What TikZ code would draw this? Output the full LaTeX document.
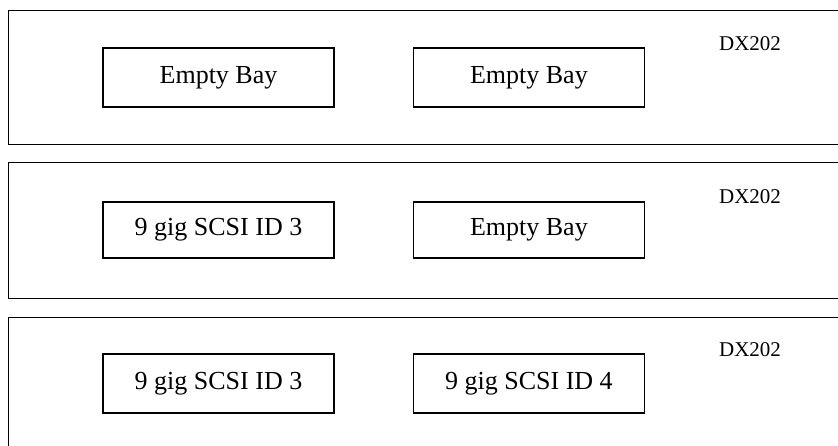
\documentclass[tikz,border=0pt]{standalone}
\usepackage{fontspec}
\setmainfont{Liberation Serif}
\usetikzlibrary{positioning}
\tikzset
{
    shelf/.style = {draw=black, line width=0.7pt, minimum width=421pt, minimum height=67pt, anchor=north west, inner sep=0pt},
    bay/.style   = {draw=black, line width=0.7pt, align=center, minimum width=115.5pt, minimum height=29.5pt, inner sep=0pt, font=\fontsize{13}{15}\selectfont},
    unit/.style  = {font=\fontsize{10.5}{12}\selectfont}
}

\begin{document}
\begin{tikzpicture}[x=0.5pt, y=-0.5pt]
    \useasboundingbox (0,0) rectangle (838,445);
    % top enclosure
    \node [shelf] (shelfA) at (8,10) {};
    \node [unit] (unitA) at (750,44) {DX202};
    \node [bay] (bayA1) at (218.5,77.5) {Empty Bay};
    \node [bay, right=39pt of bayA1] (bayA2) {Empty Bay};
    % middle enclosure
    \node [shelf, minimum height=68pt] (shelfB) at (8,162) {};
    \node [unit] (unitB) at (750,197) {DX202};
    \node [bay, minimum height=28pt] (bayB1) at (218.5,230) {9 gig SCSI ID 3};
    \node [bay, minimum height=28pt, right=39pt of bayB1] (bayB2) {Empty Bay};
    % bottom enclosure
    \node [shelf, minimum height=72pt] (shelfC) at (8,317) {};
    \node [unit] (unitC) at (750,350) {DX202};
    \node [bay] (bayC1) at (218.5,383.5) {9 gig SCSI ID 3};
    \node [bay, right=39pt of bayC1] (bayC2) {9 gig SCSI ID 4};
\end{tikzpicture}
\end{document}
